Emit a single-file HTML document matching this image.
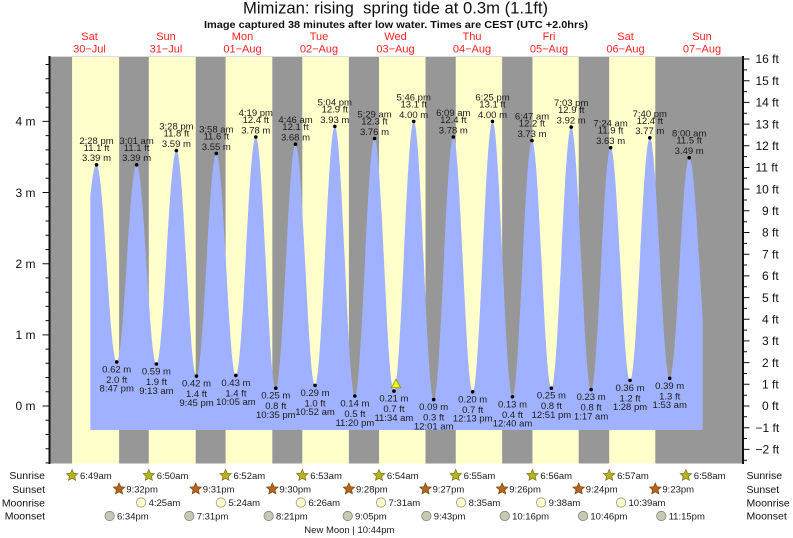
<!DOCTYPE html>
<html><head><meta charset="utf-8"><style>
html,body{margin:0;padding:0;background:#fff;}
svg{display:block;font-family:"Liberation Sans",Arial,sans-serif;}
</style></head><body>
<svg width="793" height="538" viewBox="0 0 793 538" xmlns="http://www.w3.org/2000/svg">
<defs>
<path id="star" d="M0,-6 L1.65,-2.27 L5.71,-1.85 L2.66,0.87 L3.53,4.85 L0,2.8 L-3.53,4.85 L-2.66,0.87 L-5.71,-1.85 L-1.65,-2.27 Z"/>
<clipPath id="cl"><rect x="90.3" y="0" width="612.4" height="430"/></clipPath>
</defs>
<rect width="793" height="538" fill="#fff"/>
<!-- title -->
<text x="395.5" y="13.5" font-size="16.5" text-anchor="middle" fill="#111" style="white-space:pre" textLength="305" lengthAdjust="spacingAndGlyphs">Mimizan: rising  spring tide at 0.3m (1.1ft)</text>
<text x="396" y="28" font-size="10" font-weight="bold" text-anchor="middle" fill="#111" textLength="384" lengthAdjust="spacingAndGlyphs">Image captured 38 minutes after low water. Times are CEST (UTC +2.0hrs)</text>
<!-- day labels -->
<g font-size="11" fill="#f22" text-anchor="middle">
<text x="89.5" y="40">Sat</text><text x="89.5" y="52.5">30−Jul</text>
<text x="166" y="40">Sun</text><text x="166" y="52.5">31−Jul</text>
<text x="242.5" y="40">Mon</text><text x="242.5" y="52.5">01−Aug</text>
<text x="319" y="40">Tue</text><text x="319" y="52.5">02−Aug</text>
<text x="395.5" y="40">Wed</text><text x="395.5" y="52.5">03−Aug</text>
<text x="472" y="40">Thu</text><text x="472" y="52.5">04−Aug</text>
<text x="549" y="40">Fri</text><text x="549" y="52.5">05−Aug</text>
<text x="625.5" y="40">Sat</text><text x="625.5" y="52.5">06−Aug</text>
<text x="702" y="40">Sun</text><text x="702" y="52.5">07−Aug</text>
</g>
<!-- plot background -->
<rect x="50" y="56" width="692.5" height="407.5" fill="#979797"/>
<g fill="#ffffcc">
<rect x="72.08" y="56" width="47.01" height="407.5"/>
<rect x="148.8" y="56" width="46.91" height="407.5"/>
<rect x="225.58" y="56" width="46.74" height="407.5"/>
<rect x="302.31" y="56" width="46.58" height="407.5"/>
<rect x="379.02" y="56" width="46.48" height="407.5"/>
<rect x="455.74" y="56" width="46.38" height="407.5"/>
<rect x="532.47" y="56" width="46.21" height="407.5"/>
<rect x="609.19" y="56" width="46.11" height="407.5"/>
</g>
<line x1="50" y1="56.5" x2="742" y2="56.5" stroke="#dcdcdc" stroke-width="1"/>
<!-- tide fill -->
<path clip-path="url(#cl)" fill="#a0b2ff" d="M72.66,363.3 C81.32,363.3 87.84,164.8 96.51,164.8 C103.84,164.8 109.36,361.9 116.69,361.9 C123.93,361.9 129.37,164.8 136.61,164.8 C143.81,164.8 149.21,364.0 156.41,364.0 C163.67,364.0 169.12,150.6 176.38,150.6 C183.67,150.6 189.16,376.1 196.45,376.1 C203.67,376.1 209.09,153.4 216.31,153.4 C223.41,153.4 228.75,375.4 235.85,375.4 C243.09,375.4 248.52,137.0 255.76,137.0 C263.04,137.0 268.50,388.2 275.78,388.2 C282.96,388.2 288.36,144.2 295.54,144.2 C302.62,144.2 307.94,385.4 315.02,385.4 C322.22,385.4 327.63,126.4 334.83,126.4 C342.11,126.4 347.57,396.0 354.85,396.0 C361.99,396.0 367.36,138.5 374.50,138.5 C381.56,138.5 386.87,391.1 393.93,391.1 C401.13,391.1 406.54,121.4 413.74,121.4 C420.99,121.4 426.45,399.6 433.70,399.6 C440.82,399.6 446.18,137.0 453.30,137.0 C460.34,137.0 465.64,391.8 472.68,391.8 C479.88,391.8 485.28,121.4 492.48,121.4 C499.74,121.4 505.19,396.8 512.45,396.8 C519.55,396.8 524.89,140.6 531.99,140.6 C539.03,140.6 544.33,388.2 551.37,388.2 C558.57,388.2 563.98,127.1 571.18,127.1 C578.42,127.1 583.85,389.6 591.09,389.6 C598.19,389.6 603.53,147.7 610.63,147.7 C617.67,147.7 622.97,380.4 630.01,380.4 C637.21,380.4 642.62,137.8 649.82,137.8 C657.04,137.8 662.46,378.3 669.68,378.3 C676.78,378.3 682.12,157.7 689.22,157.7 C696.76,157.7 702.44,377.5 709.98,377.5 L709.98,430 L72.66,430 Z"/>
<!-- dots -->
<g fill="#000">
<circle cx="96.51" cy="164.8" r="1.8"/><circle cx="116.69" cy="361.9" r="1.8"/><circle cx="136.61" cy="164.8" r="1.8"/><circle cx="156.41" cy="364.0" r="1.8"/><circle cx="176.38" cy="150.6" r="1.8"/><circle cx="196.45" cy="376.1" r="1.8"/><circle cx="216.31" cy="153.4" r="1.8"/><circle cx="235.85" cy="375.4" r="1.8"/><circle cx="255.76" cy="137.0" r="1.8"/><circle cx="275.78" cy="388.2" r="1.8"/><circle cx="295.54" cy="144.2" r="1.8"/><circle cx="315.02" cy="385.4" r="1.8"/><circle cx="334.83" cy="126.4" r="1.8"/><circle cx="354.85" cy="396.0" r="1.8"/><circle cx="374.50" cy="138.5" r="1.8"/><circle cx="393.93" cy="391.1" r="1.8"/><circle cx="413.74" cy="121.4" r="1.8"/><circle cx="433.70" cy="399.6" r="1.8"/><circle cx="453.30" cy="137.0" r="1.8"/><circle cx="472.68" cy="391.8" r="1.8"/><circle cx="492.48" cy="121.4" r="1.8"/><circle cx="512.45" cy="396.8" r="1.8"/><circle cx="531.99" cy="140.6" r="1.8"/><circle cx="551.37" cy="388.2" r="1.8"/><circle cx="571.18" cy="127.1" r="1.8"/><circle cx="591.09" cy="389.6" r="1.8"/><circle cx="610.63" cy="147.7" r="1.8"/><circle cx="630.01" cy="380.4" r="1.8"/><circle cx="649.82" cy="137.8" r="1.8"/><circle cx="669.68" cy="378.3" r="1.8"/><circle cx="689.22" cy="157.7" r="1.8"/>
</g>
<!-- now triangle -->
<polygon points="391.3,387.8 400.7,387.8 396,379.2" fill="#f2f21e" stroke="#8a8a10" stroke-width="0.8"/>
<!-- point labels -->
<g font-size="9.5" fill="#1a1a1a" text-anchor="middle">
<text x="96.5" y="143.8">2:28 pm</text><text x="96.5" y="150.8">11.1 ft</text><text x="96.5" y="161.2">3.39 m</text>
<text x="116.7" y="372.4">0.62 m</text><text x="116.7" y="382.9">2.0 ft</text><text x="116.7" y="391.7">8:47 pm</text>
<text x="136.6" y="143.8">3:01 am</text><text x="136.6" y="150.8">11.1 ft</text><text x="136.6" y="161.2">3.39 m</text>
<text x="156.4" y="374.5">0.59 m</text><text x="156.4" y="385">1.9 ft</text><text x="156.4" y="393.8">9:13 am</text>
<text x="176.4" y="129.6">3:28 pm</text><text x="176.4" y="136.6">11.8 ft</text><text x="176.4" y="147">3.59 m</text>
<text x="196.5" y="386.6">0.42 m</text><text x="196.5" y="397.1">1.4 ft</text><text x="196.5" y="405.9">9:45 pm</text>
<text x="216.3" y="132.4">3:58 am</text><text x="216.3" y="139.4">11.6 ft</text><text x="216.3" y="149.8">3.55 m</text>
<text x="235.9" y="385.9">0.43 m</text><text x="235.9" y="396.4">1.4 ft</text><text x="235.9" y="405.2">10:05 am</text>
<text x="255.8" y="116">4:19 pm</text><text x="255.8" y="123">12.4 ft</text><text x="255.8" y="133.4">3.78 m</text>
<text x="275.8" y="398.7">0.25 m</text><text x="275.8" y="409.2">0.8 ft</text><text x="275.8" y="418">10:35 pm</text>
<text x="295.5" y="123.2">4:46 am</text><text x="295.5" y="130.2">12.1 ft</text><text x="295.5" y="140.6">3.68 m</text>
<text x="315" y="395.9">0.29 m</text><text x="315" y="406.4">1.0 ft</text><text x="315" y="415.2">10:52 am</text>
<text x="334.8" y="105.4">5:04 pm</text><text x="334.8" y="112.4">12.9 ft</text><text x="334.8" y="122.8">3.93 m</text>
<text x="354.9" y="406.5">0.14 m</text><text x="354.9" y="417">0.5 ft</text><text x="354.9" y="425.8">11:20 pm</text>
<text x="374.5" y="117.5">5:29 am</text><text x="374.5" y="124.5">12.3 ft</text><text x="374.5" y="134.9">3.76 m</text>
<text x="393.9" y="401.6">0.21 m</text><text x="393.9" y="412.1">0.7 ft</text><text x="393.9" y="420.9">11:34 am</text>
<text x="413.7" y="100.4">5:46 pm</text><text x="413.7" y="107.4">13.1 ft</text><text x="413.7" y="117.8">4.00 m</text>
<text x="433.7" y="410.1">0.09 m</text><text x="433.7" y="420.6">0.3 ft</text><text x="433.7" y="429.4">12:01 am</text>
<text x="453.3" y="116">6:09 am</text><text x="453.3" y="123">12.4 ft</text><text x="453.3" y="133.4">3.78 m</text>
<text x="472.7" y="402.3">0.20 m</text><text x="472.7" y="412.8">0.7 ft</text><text x="472.7" y="421.6">12:13 pm</text>
<text x="492.5" y="100.4">6:25 pm</text><text x="492.5" y="107.4">13.1 ft</text><text x="492.5" y="117.8">4.00 m</text>
<text x="512.5" y="407.3">0.13 m</text><text x="512.5" y="417.8">0.4 ft</text><text x="512.5" y="426.6">12:40 am</text>
<text x="532" y="119.6">6:47 am</text><text x="532" y="126.6">12.2 ft</text><text x="532" y="137">3.73 m</text>
<text x="551.4" y="398.7">0.25 m</text><text x="551.4" y="409.2">0.8 ft</text><text x="551.4" y="418">12:51 pm</text>
<text x="571.2" y="106.1">7:03 pm</text><text x="571.2" y="113.1">12.9 ft</text><text x="571.2" y="123.5">3.92 m</text>
<text x="591.1" y="400.1">0.23 m</text><text x="591.1" y="410.6">0.8 ft</text><text x="591.1" y="419.4">1:17 am</text>
<text x="610.6" y="126.7">7:24 am</text><text x="610.6" y="133.7">11.9 ft</text><text x="610.6" y="144.1">3.63 m</text>
<text x="630" y="390.9">0.36 m</text><text x="630" y="401.4">1.2 ft</text><text x="630" y="410.2">1:28 pm</text>
<text x="649.8" y="116.8">7:40 pm</text><text x="649.8" y="123.8">12.4 ft</text><text x="649.8" y="134.2">3.77 m</text>
<text x="669.7" y="388.8">0.39 m</text><text x="669.7" y="399.3">1.3 ft</text><text x="669.7" y="408.1">1:53 am</text>
<text x="689.2" y="136.7">8:00 am</text><text x="689.2" y="143.7">11.5 ft</text><text x="689.2" y="154.1">3.49 m</text>
</g>
<!-- axes -->
<rect x="48.5" y="56" width="2" height="408" fill="#111"/>
<rect x="742" y="56" width="2" height="408" fill="#111"/>
<path stroke="#111" stroke-width="1" fill="none" d="M45.5,462.9h3.5M45.5,448.7h3.5M45.5,434.5h3.5M45.5,420.2h3.5M42.5,406h6.5M45.5,391.8h3.5M45.5,377.5h3.5M45.5,363.3h3.5M45.5,349.1h3.5M42.5,334.85h6.5M45.5,320.6h3.5M45.5,306.4h3.5M45.5,292.2h3.5M45.5,277.9h3.5M42.5,263.7h6.5M45.5,249.5h3.5M45.5,235.2h3.5M45.5,221h3.5M45.5,206.8h3.5M42.5,192.55h6.5M45.5,178.3h3.5M45.5,164.1h3.5M45.5,149.9h3.5M45.5,135.6h3.5M42.5,121.4h6.5M45.5,107.2h3.5M45.5,92.9h3.5M45.5,78.7h3.5M45.5,64.5h3.5"/>
<path stroke="#111" stroke-width="1" fill="none" d="M744,460.2h3M744,449.4h5.5M744,438.5h3M744,427.7h5.5M744,416.8h3M744,406h5.5M744,395.2h3M744,384.3h5.5M744,373.5h3M744,362.6h5.5M744,351.8h3M744,340.9h5.5M744,330.1h3M744,319.3h5.5M744,308.4h3M744,297.6h5.5M744,286.7h3M744,275.9h5.5M744,265h3M744,254.2h5.5M744,243.4h3M744,232.5h5.5M744,221.7h3M744,210.8h5.5M744,200h3M744,189.1h5.5M744,178.3h3M744,167.5h5.5M744,156.6h3M744,145.8h5.5M744,134.9h3M744,124.1h5.5M744,113.3h3M744,102.4h5.5M744,91.6h3M744,80.7h5.5M744,69.9h3M744,59h5.5"/>
<g font-size="12" fill="#111" text-anchor="end">
<text x="35.5" y="125.6">4 m</text><text x="35.5" y="196.8">3 m</text><text x="35.5" y="267.9">2 m</text><text x="35.5" y="339">1 m</text><text x="35.5" y="410.2">0 m</text>
</g>
<g font-size="12" fill="#111">
<text x="755.5" y="63.2">16 ft</text><text x="755.5" y="84.9">15 ft</text><text x="755.5" y="106.6">14 ft</text><text x="755.5" y="128.3">13 ft</text><text x="755.5" y="150">12 ft</text><text x="755.5" y="171.7">11 ft</text><text x="755.5" y="193.3">10 ft</text>
<text x="762" y="215">9 ft</text><text x="762" y="236.7">8 ft</text><text x="762" y="258.4">7 ft</text><text x="762" y="280.1">6 ft</text><text x="762" y="301.8">5 ft</text><text x="762" y="323.5">4 ft</text><text x="762" y="345.1">3 ft</text><text x="762" y="366.8">2 ft</text><text x="762" y="388.5">1 ft</text><text x="762" y="410.2">0 ft</text>
<text x="755.5" y="431.9">−1 ft</text><text x="755.5" y="453.6">−2 ft</text>
</g>
<!-- bottom rows labels -->
<g font-size="10.5" fill="#111" text-anchor="end">
<text x="45" y="479">Sunrise</text><text x="45" y="492.8">Sunset</text><text x="45" y="506.3">Moonrise</text><text x="45" y="519.6">Moonset</text>
</g>
<g font-size="10.5" fill="#111">
<text x="746.5" y="479">Sunrise</text><text x="746.5" y="492.8">Sunset</text><text x="746.5" y="506.3">Moonrise</text><text x="746.5" y="519.6">Moonset</text>
</g>
<!-- sunrise icons -->
<g fill="#b8b222" stroke="#7a7418" stroke-width="0.7">
<use href="#star" x="72.08" y="475.5"/><use href="#star" x="148.8" y="475.5"/><use href="#star" x="225.58" y="475.5"/><use href="#star" x="302.31" y="475.5"/><use href="#star" x="379.02" y="475.5"/><use href="#star" x="455.74" y="475.5"/><use href="#star" x="532.47" y="475.5"/><use href="#star" x="609.19" y="475.5"/><use href="#star" x="685.9" y="475.5"/>
</g>
<g fill="#b3661e" stroke="#7a4210" stroke-width="0.7">
<use href="#star" x="119.09" y="489"/><use href="#star" x="195.71" y="489"/><use href="#star" x="272.32" y="489"/><use href="#star" x="348.89" y="489"/><use href="#star" x="425.5" y="489"/><use href="#star" x="502.12" y="489"/><use href="#star" x="578.68" y="489"/><use href="#star" x="655.3" y="489"/>
</g>
<g fill="#ffffcc" stroke="#9a9a8a" stroke-width="0.8">
<circle cx="141.08" cy="502.5" r="4.7"/><circle cx="220.89" cy="502.5" r="4.7"/><circle cx="300.86" cy="502.5" r="4.7"/><circle cx="380.99" cy="502.5" r="4.7"/><circle cx="461.07" cy="502.5" r="4.7"/><circle cx="541.09" cy="502.5" r="4.7"/><circle cx="621.01" cy="502.5" r="4.7"/>
</g>
<g fill="#c8c8b4" stroke="#85857a" stroke-width="0.8">
<circle cx="109.61" cy="516" r="4.7"/><circle cx="189.32" cy="516" r="4.7"/><circle cx="268.65" cy="516" r="4.7"/><circle cx="347.66" cy="516" r="4.7"/><circle cx="426.36" cy="516" r="4.7"/><circle cx="504.78" cy="516" r="4.7"/><circle cx="583.05" cy="516" r="4.7"/><circle cx="661.26" cy="516" r="4.7"/>
</g>
<g font-size="9.5" fill="#1a1a1a">
<text x="80" y="479">6:49am</text><text x="156.7" y="479">6:50am</text><text x="233.5" y="479">6:52am</text><text x="310.2" y="479">6:53am</text><text x="386.9" y="479">6:54am</text><text x="463.6" y="479">6:55am</text><text x="540.4" y="479">6:56am</text><text x="617.1" y="479">6:57am</text><text x="693.8" y="479">6:58am</text>
<text x="126.2" y="492.5">9:32pm</text><text x="202.8" y="492.5">9:31pm</text><text x="279.4" y="492.5">9:30pm</text><text x="356" y="492.5">9:28pm</text><text x="432.6" y="492.5">9:27pm</text><text x="509.2" y="492.5">9:26pm</text><text x="585.8" y="492.5">9:24pm</text><text x="662.4" y="492.5">9:23pm</text>
<text x="148.6" y="506">4:25am</text><text x="228.4" y="506">5:24am</text><text x="308.4" y="506">6:26am</text><text x="388.5" y="506">7:31am</text><text x="468.6" y="506">8:35am</text><text x="548.6" y="506">9:38am</text><text x="628.5" y="506">10:39am</text>
<text x="117" y="519.5">6:34pm</text><text x="196.7" y="519.5">7:31pm</text><text x="276" y="519.5">8:21pm</text><text x="355" y="519.5">9:05pm</text><text x="433.7" y="519.5">9:43pm</text><text x="512.1" y="519.5">10:16pm</text><text x="590.4" y="519.5">10:46pm</text><text x="668.6" y="519.5">11:15pm</text>
<text x="304.3" y="532.8">New Moon | 10:44pm</text>
</g>
</svg>
</body></html>
